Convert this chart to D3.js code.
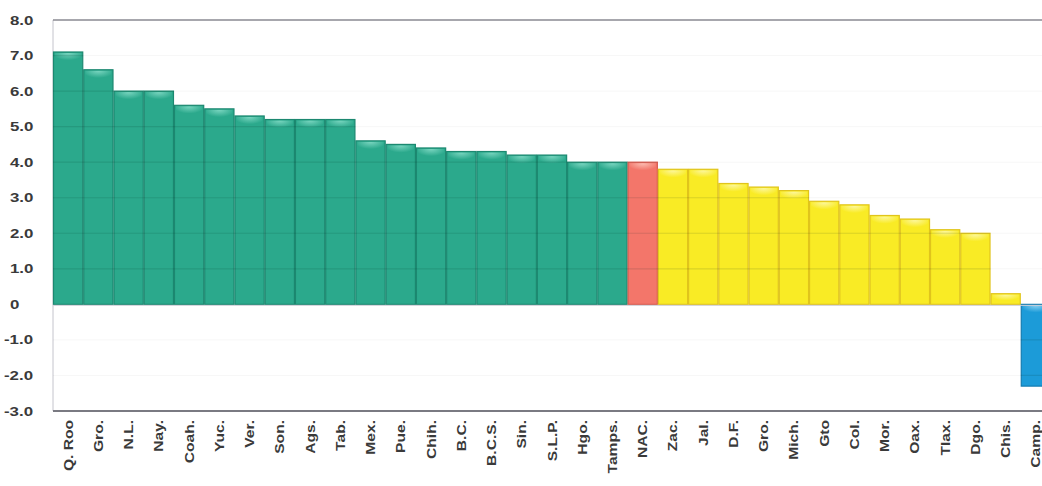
<!DOCTYPE html>
<html><head><meta charset="utf-8">
<script src="https://cdn.jsdelivr.net/npm/d3@7"></script>
<style>body{margin:0;background:#fff;}svg{display:block;}</style>
</head><body>
<svg id="c" width="1042" height="486"></svg>
<script>
const categories = ["Q. Roo","Gro.","N.L.","Nay.","Coah.","Yuc.","Ver.","Son.","Ags.","Tab.","Mex.","Pue.","Chih.","B.C.","B.C.S.","Sin.","S.L.P.","Hgo.","Tamps.","NAC.","Zac.","Jal.","D.F.","Gro.","Mich.","Gto","Col.","Mor.","Oax.","Tlax.","Dgo.","Chis.","Camp."];
const values = [7.1,6.6,6.0,6.0,5.6,5.5,5.3,5.2,5.2,5.2,4.6,4.5,4.4,4.3,4.3,4.2,4.2,4.0,4.0,4.0,3.8,3.8,3.4,3.3,3.2,2.9,2.8,2.5,2.4,2.1,2.0,0.3,-2.3];
const groups = ["above","above","above","above","above","above","above","above","above","above","above","above","above","above","above","above","above","above","above","national","below","below","below","below","below","below","below","below","below","below","below","below","negative"];
const yTicks = [8,7,6,5,4,3,2,1,0,-1,-2,-3];
const yTickLabels = ["8.0","7.0","6.0","5.0","4.0","3.0","2.0","1.0","0","-1.0","-2.0","-3.0"];

const palette = {
  above:    {fill:"#2ba98c", light:"#7fd8c3", stroke:"#1c8870"},
  national: {fill:"#f3766a", light:"#fbc3b8", stroke:"#d85a4e"},
  below:    {fill:"#f9eb25", light:"#fdf8a8", stroke:"#e0c41c"},
  negative: {fill:"#1c9bd8", light:"#8fd3f2", stroke:"#137bb0"}
};

const svg = d3.select("#c");
const pL = 53, pR = 1051, pT = 20, pB = 411;
const x = d3.scaleBand().domain(d3.range(categories.length)).range([pL, pR]).padding(0);
const y = d3.scaleLinear().domain([-3, 8]).range([pB, pT]);

const barData = categories.map((c,i)=>({c, v:values[i], g:groups[i], i}));

const defs = svg.append("defs");
Object.entries(palette).forEach(([k,c]) => {
  const h = defs.append("radialGradient").attr("id","h-"+k).attr("cx","50%").attr("cy","0%").attr("r","60%");
  h.append("stop").attr("offset","0").attr("stop-color",c.light).attr("stop-opacity",0.95);
  h.append("stop").attr("offset","1").attr("stop-color",c.light).attr("stop-opacity",0);
});
defs.append("clipPath").attr("id","barsClip").selectAll("rect").data(barData).join("rect")
  .attr("x", d => x(d.i))
  .attr("width", x.bandwidth())
  .attr("y", d => y(Math.max(0,d.v)))
  .attr("height", d => Math.abs(y(d.v)-y(0)));

svg.append("line").attr("x1",pL).attr("x2",pL).attr("y1",pT).attr("y2",pB)
  .attr("stroke","#c4c4cc").attr("stroke-width",1);

// very faint grid in the empty area
svg.append("g").selectAll("line").data(yTicks.filter(t=>t!==8 && t!==-3 && t!==0)).join("line")
  .attr("x1",pL).attr("x2",1042).attr("y1",d=>y(d)).attr("y2",d=>y(d))
  .attr("stroke","rgba(0,0,0,0.035)").attr("stroke-width",1);

const bars = svg.append("g").selectAll("g").data(barData).join("g");
bars.append("rect")
  .attr("x", d => x(d.i)+0.5)
  .attr("width", x.bandwidth()-1)
  .attr("y", d => y(Math.max(0,d.v)))
  .attr("height", d => Math.abs(y(d.v)-y(0)))
  .attr("fill", d => palette[d.g].fill)
  .attr("stroke", d => palette[d.g].stroke)
  .attr("stroke-width", 1.2);
bars.append("rect")
  .attr("x", d => x(d.i)+2)
  .attr("width", x.bandwidth()-4)
  .attr("y", d => y(Math.max(0,d.v))+1)
  .attr("height", d => Math.min(12, Math.abs(y(d.v)-y(0))-1))
  .attr("fill", d => "url(#h-"+d.g+")");

// grid lines showing through the bars
svg.append("g").attr("clip-path","url(#barsClip)")
  .selectAll("line").data(yTicks.filter(t=>t!==8 && t!==-3 && t!==0)).join("line")
  .attr("x1",pL).attr("x2",1042).attr("y1",d=>y(d)).attr("y2",d=>y(d))
  .attr("stroke","rgba(0,50,40,0.13)").attr("stroke-width",1.2);

svg.append("line").attr("x1",pL).attr("x2",1042).attr("y1",y(0)+1).attr("y2",y(0)+1)
  .attr("stroke","#d0d0d8").attr("stroke-width",1);
svg.append("line").attr("x1",pL).attr("x2",1042).attr("y1",y(8)).attr("y2",y(8))
  .attr("stroke","#8a8a92").attr("stroke-width",1.5);
svg.append("line").attr("x1",pL).attr("x2",1042).attr("y1",y(-3)).attr("y2",y(-3))
  .attr("stroke","#7a7a82").attr("stroke-width",2);

svg.append("g").selectAll("text").data(yTicks).join("text")
  .attr("transform", (d) => `translate(${d<0?4:10},${y(d)+4.5}) scale(1.35,1)`)
  .attr("font-family","Liberation Sans, Arial, sans-serif")
  .attr("font-weight","bold")
  .attr("font-size","12.5px")
  .attr("fill","#3a3a3a")
  .text((d,i)=>yTickLabels[i]);

svg.append("g").selectAll("text").data(barData).join("text")
  .attr("transform", d => `translate(${x(d.i)+x.bandwidth()/2+4.5},420) rotate(-90) scale(1.3,1)`)
  .attr("text-anchor","end")
  .attr("font-family","Liberation Sans, Arial, sans-serif")
  .attr("font-weight","bold")
  .attr("font-size","12px")
  .attr("fill","#3a3a3a")
  .text(d=>d.c);
</script>
</body></html>
